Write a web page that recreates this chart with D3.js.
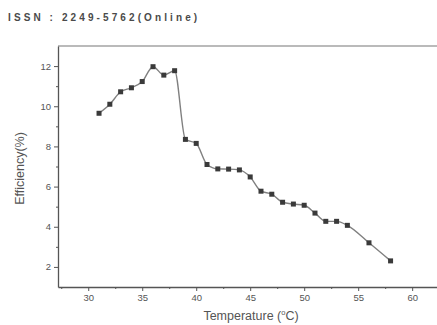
<!DOCTYPE html>
<html>
<head>
<meta charset="utf-8">
<script src="https://cdn.jsdelivr.net/npm/d3@7"></script>
<style>
	body { margin: 0; background: #fff; }
	svg { display: block; }
	text { font-family: "Liberation Sans", Arial, sans-serif; }
</style>
</head>
<body>
<div id="chart"></div>
<script>
// Efficiency vs temperature
const temperature = [31, 32, 33, 34, 35, 36, 37, 38, 39, 40, 41, 42, 43, 44, 45, 46, 47, 48, 49, 50, 51, 52, 53, 54, 56, 58];
const efficiency = [9.65, 10.1, 10.72, 10.92, 11.23, 11.97, 11.55, 11.77, 8.35, 8.15, 7.1, 6.88, 6.87, 6.83, 6.48, 5.77, 5.62, 5.22, 5.13, 5.07, 4.68, 4.27, 4.27, 4.07, 3.2, 2.3];
const xTicks = [30, 35, 40, 45, 50, 55, 60];
const xMinor = [27.5, 32.5, 37.5, 42.5, 47.5, 52.5, 57.5];
const yTicks = [2, 4, 6, 8, 10, 12];
const yMinor = [3, 5, 7, 9, 11];

const width = 437, height = 325;
const margin = { top: 46, right: 0, bottom: 38, left: 58 };

const svg = d3.select('#chart')
	.append('svg')
	.attr('width', width)
	.attr('height', height);

// journal header from the page scan
svg.append('text')
	.attr('x', 8)
	.attr('y', 21)
	.attr('font-size', 10)
	.attr('font-weight', 'bold')
	.attr('letter-spacing', 3.1)
	.attr('fill', '#4a4a4a')
	.text('ISSN : 2249-5762(Online)');

const x = d3.scaleLinear()
	.domain([27.2, 62.3])
	.range([margin.left, width - margin.right]);

const y = d3.scaleLinear()
	.domain([1, 13])
	.range([height - margin.bottom, margin.top]);

const axisColor = '#555';

// top frame line
svg.append('line')
	.attr('x1', x.range()[0]).attr('x2', x.range()[1])
	.attr('y1', y(13)).attr('y2', y(13))
	.attr('stroke', '#777').attr('stroke-width', 1.2);

// x axis
svg.append('g')
	.attr('transform', `translate(0,${y(1)})`)
	.call(d3.axisBottom(x).tickValues(xTicks).tickSize(4).tickPadding(3).tickSizeOuter(0));
svg.append('g')
	.attr('transform', `translate(0,${y(1)})`)
	.call(d3.axisBottom(x).tickValues(xMinor).tickSize(2).tickFormat(''))
	.select('.domain').remove();

// y axis
svg.append('g')
	.attr('transform', `translate(${x(27.2)},0)`)
	.call(d3.axisLeft(y).tickValues(yTicks).tickSize(4).tickPadding(3).tickSizeOuter(0));
svg.append('g')
	.attr('transform', `translate(${x(27.2)},0)`)
	.call(d3.axisLeft(y).tickValues(yMinor).tickSize(2).tickFormat(''))
	.select('.domain').remove();

svg.selectAll('.domain').attr('stroke', axisColor).attr('stroke-width', 1.3);
svg.selectAll('.tick line').attr('stroke', axisColor);
svg.selectAll('.tick text')
	.attr('font-size', 9.5)
	.attr('fill', '#555')
	.attr('font-family', '"Liberation Sans", Arial, sans-serif');

// axis titles
svg.append('text')
	.attr('x', 251)
	.attr('y', 320)
	.attr('text-anchor', 'middle')
	.attr('font-size', 12.5)
	.attr('fill', '#555')
	.call(t => {
		t.append('tspan').text('Temperature (');
		t.append('tspan').attr('font-size', 7.5).attr('dy', -5).text('o');
		t.append('tspan').attr('dy', 5).text('C)');
	});

svg.append('text')
	.attr('transform', `translate(24,${(y(1) + y(13)) / 2 + 2}) rotate(-90)`)
	.attr('text-anchor', 'middle')
	.attr('font-size', 12.5)
	.attr('fill', '#555')
	.text('Efficiency(%)');

// data
const data = temperature.map((t, i) => ({ t, e: efficiency[i] }));

const line = d3.line()
	.x(d => x(d.t))
	.y(d => y(d.e))
	.curve(d3.curveMonotoneX);

svg.append('path')
	.datum(data)
	.attr('d', line)
	.attr('fill', 'none')
	.attr('stroke', '#808080')
	.attr('stroke-width', 1.4);

svg.append('g')
	.selectAll('rect')
	.data(data)
	.join('rect')
	.attr('x', d => x(d.t) - 2.5)
	.attr('y', d => y(d.e) - 2.5)
	.attr('width', 5)
	.attr('height', 5)
	.attr('fill', '#3a3a3a');
</script>
</body>
</html>
